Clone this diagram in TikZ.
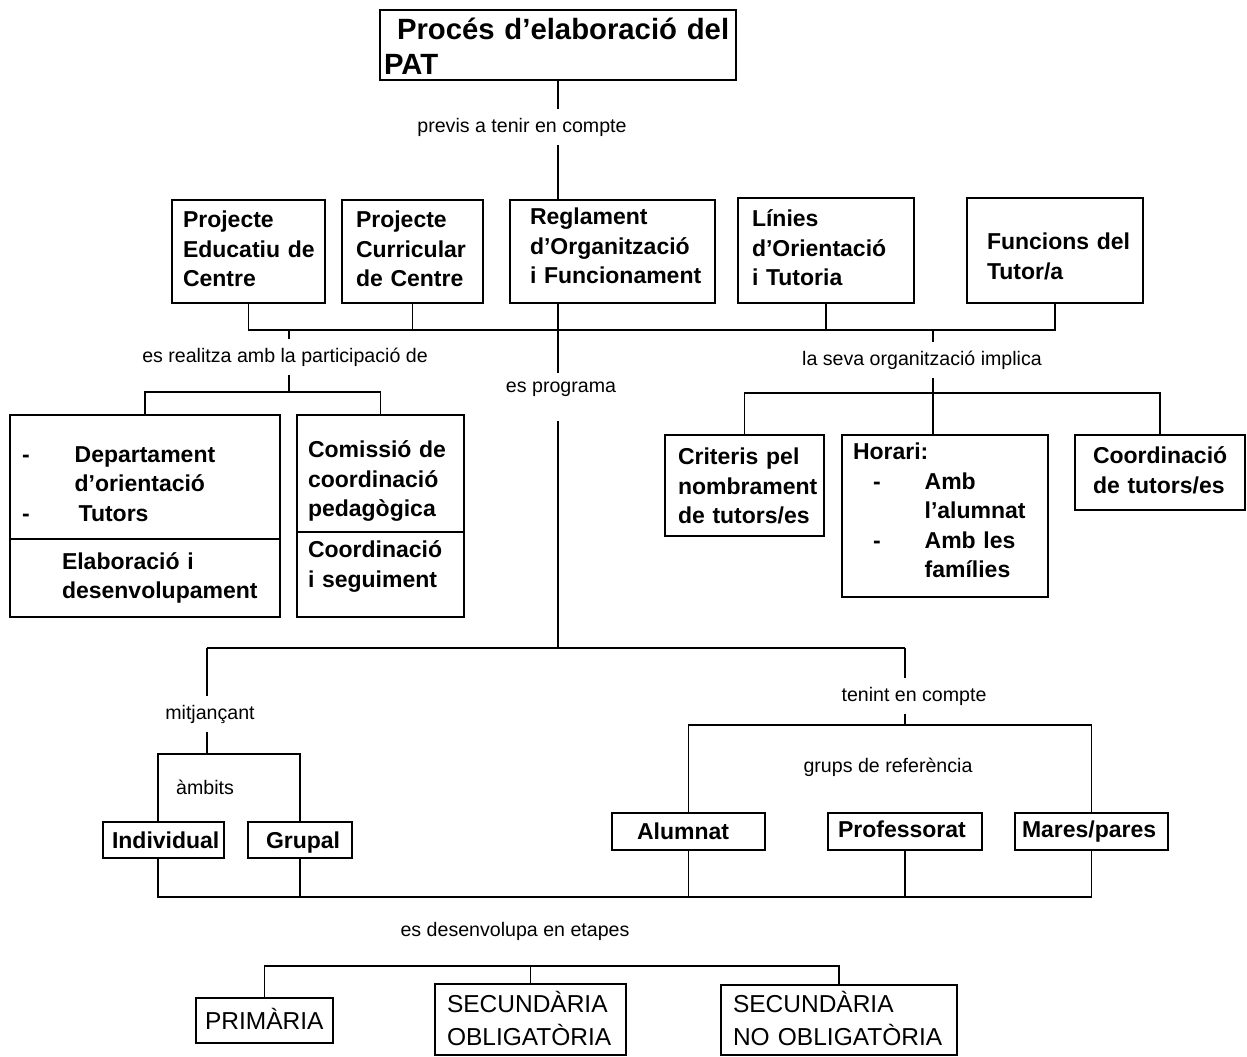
\documentclass[tikz,border=0pt]{standalone}
\usepackage{fontspec}
\setmainfont{Liberation Sans}
\usepackage{tikz}

\newcommand\pattitle{\bfseries\fontsize{29.3}{35}\selectfont}
\newcommand\boxfont{\bfseries\fontsize{23}{29.5}\selectfont}
\newcommand\stagefont{\fontsize{24.5}{33}\selectfont}
\newcommand\lblfont{\fontsize{19.6}{23}\selectfont}
% left-indented lines inside a box
\newcommand\inbox[2]{\noindent\begin{tabular}{@{\hspace{#1}}l@{}}#2\end{tabular}}

\tikzset{
  box/.style={draw, inner sep=0pt, align=left, font=\boxfont},
  stagebox/.style={box, font=\stagefont},
  lbl/.style={font=\lblfont, inner xsep=2pt, inner ysep=8pt}
}

\begin{document}
\begin{tikzpicture}[x=1pt, y=-1pt, line width=1.3pt]
  \useasboundingbox (0,0) rectangle (1247,1057);

  % title and the five documents
  \node[box, text width=356pt, minimum height=70pt, font=\pattitle] (title) at (558,45)
    {\inbox{17pt}{\noalign{\vskip 5pt}Procés d'elaboració del\\\hspace*{-13pt}PAT\\\noalign{\vskip -5pt}}};
  \node[lbl] (lbPrev) at (522,127) {previs a tenir en compte};

  \node[box, text width=153pt, minimum height=103pt] (pec) at (248.5,251.5)
    {\inbox{11pt}{Projecte\\Educatiu de\\Centre}};
  \node[box, text width=141pt, minimum height=103pt] (pcc) at (412.5,251.5)
    {\inbox{14pt}{Projecte\\Curricular\\de Centre}};
  \node[box, text width=205pt, minimum height=103pt] (reg) at (612.5,251.5)
    {\inbox{20pt}{Reglament\\d'Organització\\i Funcionament\\\noalign{\vskip 6pt}}};
  \node[box, text width=176pt, minimum height=105pt] (lin) at (826,250.5)
    {\inbox{14pt}{Línies\\d'Orientació\\i Tutoria}};
  \node[box, text width=176pt, minimum height=105pt] (fun) at (1055,250.5)
    {\inbox{20pt}{\noalign{\vskip 16pt}Funcions del\\Tutor/a}};

  % participation
  \node[lbl] (lbReal) at (285,357) {es realitza amb la participació de};
  \node[box, text width=270pt, minimum height=124pt] (depA) at (145,477)
    {\noindent\begin{tabular}{@{\hspace{12pt}}l@{\hspace{45pt}}l@{}}
      \noalign{\vskip 18pt}
      -&Departament\\&d'orientació\\-&\hspace*{4pt}Tutors\end{tabular}};
  \node[box, text width=270pt, minimum height=78pt] (depB) at (145,578)
    {\inbox{52pt}{Elaboració i\\desenvolupament}};
  \node[box, text width=167pt, minimum height=117pt] (comA) at (380.5,473.5)
    {\inbox{11pt}{\noalign{\vskip 16pt}Comissió de\\coordinació\\pedagògica}};
  \node[box, text width=167pt, minimum height=85pt] (comB) at (380.5,574.5)
    {\inbox{11pt}{Coordinació\\i seguiment\\\noalign{\vskip 16pt}}};

  % organisation
  \node[lbl] (lbOrg) at (922,360) {la seva organització implica};
  \node[box, text width=159pt, minimum height=101pt] (crit) at (744.5,485.5)
    {\inbox{13pt}{\noalign{\vskip 6pt}Criteris pel\\nombrament\\de tutors/es}};
  \node[box, text width=206pt, minimum height=162pt] (hor) at (945,516)
    {\noindent\begin{tabular}{@{\hspace{11pt}}l@{\hspace{44pt}}l@{}}
      \multicolumn{2}{@{\hspace{11pt}}l@{}}{Horari:}\\
      \hspace*{20pt}-&Amb\\&l'alumnat\\\hspace*{20pt}-&Amb les\\&famílies\\
      \noalign{\vskip 6pt}\end{tabular}};
  \node[box, text width=170pt, minimum height=75pt] (coord) at (1160,472.5)
    {\inbox{18pt}{Coordinació\\de tutors/es}};

  % programme
  \node[lbl] (lbProg) at (561,389) {es programa};
  \node[lbl] (lbMit) at (210,714) {mitjançant};
  \node[lbl] (lbAmb) at (205,787) {àmbits};
  \node[box, text width=121pt, minimum height=36pt] (ind) at (163.5,840)
    {\inbox{9pt}{\noalign{\vskip 6pt}Individual}};
  \node[box, text width=104pt, minimum height=36pt] (grp) at (300,840)
    {\inbox{18pt}{\noalign{\vskip 6pt}Grupal}};

  \node[lbl] (lbTen) at (914,696) {tenint en compte};
  \node[lbl] (lbGrup) at (888,767) {grups de referència};
  \node[box, text width=153pt, minimum height=37pt] (alu) at (688.5,831.5)
    {\inbox{25pt}{\noalign{\vskip 4pt}Alumnat}};
  \node[box, text width=154pt, minimum height=37pt] (prof) at (905,831.5)
    {\inbox{10pt}{Professorat}};
  \node[box, text width=153pt, minimum height=37pt] (mar) at (1091.5,831.5)
    {\inbox{7pt}{Mares/pares}};

  % stages
  \node[lbl] (lbEtap) at (515,931) {es desenvolupa en etapes};
  \node[stagebox, text width=137pt, minimum height=45pt] (prim) at (264.5,1020.5)
    {\inbox{9pt}{\noalign{\vskip 5pt}PRIMÀRIA}};
  \node[stagebox, text width=191pt, minimum height=67pt] (sobl) at (530.5,1019.5)
    {\inbox{12pt}{\noalign{\vskip 5pt}SECUNDÀRIA\\OBLIGATÒRIA}};
  \node[stagebox, text width=236pt, minimum height=68pt] (snobl) at (839,1020)
    {\inbox{12pt}{\noalign{\vskip 4pt}SECUNDÀRIA\\NO OBLIGATÒRIA}};

  % junction points
  \coordinate (barTop) at (0,330);
  \coordinate (jLeft) at (289,392);
  \coordinate (jRight) at (933,393);
  \coordinate (spine) at (558,648);
  \coordinate (jMit) at (207,648);
  \coordinate (jTen) at (905,648);
  \coordinate (jAmb) at (207,754);
  \coordinate (jRef) at (905,725);
  \coordinate (indL) at (158,0);
  \coordinate (barBot) at (0,897);
  \coordinate (barStg) at (0,966);

  % connectors
  \draw (title.south) -- (title.south |- lbPrev.north);
  \draw (title.south |- lbPrev.south) -- (title.south |- reg.north);
  \draw (pec.south) |- (fun.south |- barTop) -- (fun.south);
  \draw (pcc.south) -- (pcc.south |- barTop);
  \draw (lin.south) -- (lin.south |- barTop);

  \draw (jLeft |- barTop) -- (jLeft |- lbReal.north);
  \draw (jLeft |- lbReal.south) -- (jLeft);
  \draw (depA.north) |- (comA.north |- jLeft) -- (comA.north);

  \draw (jRight |- barTop) -- (jRight |- lbOrg.north);
  \draw (jRight |- lbOrg.south) -- (jRight);
  \draw (crit.north) |- (coord.north |- jRight) -- (coord.north);
  \draw (jRight) -- (jRight |- hor.north);

  \draw (reg.south -| spine) -- (lbProg.north -| spine);
  \draw (spine |- lbProg.south) ++(0,16) -- (spine);
  \draw (jMit) -- (jTen);

  \draw (jMit) -- (jMit |- lbMit.north);
  \draw (jMit |- lbMit.south) -- (jAmb);
  \draw (ind.north -| indL) |- (grp.north |- jAmb) -- (grp.north);

  \draw (jTen) -- (jTen |- lbTen.north);
  \draw (jTen |- lbTen.south) -- (jRef);
  \draw (alu.north) |- (mar.north |- jRef) -- (mar.north);

  \draw (ind.south -| indL) |- (mar.south |- barBot) -- (mar.south);
  \draw (grp.south) -- (grp.south |- barBot);
  \draw (alu.south) -- (alu.south |- barBot);
  \draw (prof.south) -- (prof.south |- barBot);

  \draw (prim.north) |- (snobl.north |- barStg) -- (snobl.north);
  \draw (sobl.north) -- (sobl.north |- barStg);
\end{tikzpicture}
\end{document}
